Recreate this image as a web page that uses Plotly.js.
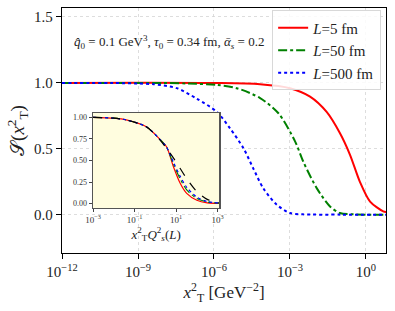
<!DOCTYPE html>
<html><head><meta charset="utf-8">
<script src="https://cdn.plot.ly/plotly-3.0.1.min.js"></script>
<style>html,body{margin:0;padding:0;background:#fff}#c{width:395px;height:311px}</style>
</head><body><div id="c"></div>
<script>
// Main panel data: x_T^2 [GeV^-2] and S(x_T^2)
const xL500 = [1e-12, 1e-10, 1e-9, 4.1e-9, 3.4e-8, 2.1e-7, 1.3e-6, 4.3e-6, 1.45e-5, 3.5e-5, 8.9e-5, 3.0e-4, 1e-3, 3.2e-3, 1e-1, 6.2];
const sL500 = [1.0, 0.999, 0.995, 0.99, 0.96, 0.88, 0.78, 0.655, 0.505, 0.354, 0.20, 0.076, 0.013, 0.003, 0.001, 0.0];
const xL50 = [1e-12, 1e-8, 1e-7, 1.3e-6, 7.9e-6, 6.6e-5, 3.5e-4, 1.6e-3, 3.4e-3, 1.15e-2, 3.8e-2, 9.3e-2, 0.32, 6.2];
const sL50 = [1.0, 0.999, 0.995, 0.985, 0.96, 0.885, 0.77, 0.555, 0.40, 0.20, 0.063, 0.013, 0.003, 0.0];
const xL5 = [1e-12, 1e-6, 6.6e-5, 1e-3, 6.2e-3, 2.8e-2, 9.3e-2, 0.234, 0.575, 1.45, 4.8, 6.2];
const sL5 = [1.0, 0.999, 0.99, 0.96, 0.896, 0.78, 0.62, 0.455, 0.25, 0.10, 0.025, 0.02];

// Inset data: x_T^2 Q_s^2(L) and S
const xIn = [1e-3, 1e-2, 4e-2, 0.37, 1.66, 3.47, 7.4, 15.5, 32.4, 100, 316, 1200];
const sInL5 = [1.0, 0.99, 0.97, 0.89, 0.745, 0.66, 0.43, 0.24, 0.12, 0.04, 0.01, 0.004];
const sInL50 = [1.0, 0.99, 0.97, 0.89, 0.745, 0.655, 0.46, 0.29, 0.16, 0.06, 0.02, 0.006];
const sInL500 = [1.0, 0.99, 0.97, 0.89, 0.745, 0.655, 0.48, 0.32, 0.19, 0.075, 0.025, 0.008];
const sInRef = [1.0, 0.99, 0.97, 0.89, 0.74, 0.64, 0.53, 0.41, 0.29, 0.14, 0.05, 0.012];

// Tick labels
const xTickVals = [1e-12, 1e-9, 1e-6, 1e-3, 1];
const xTickText = ['10<sup>−12</sup>', '10<sup>−9</sup>', '10<sup>−6</sup>', '10<sup>−3</sup>', '10<sup>0</sup>'];
const yTickVals = [0, 0.5, 1.0, 1.5];
const yTickText = ['0.0', '0.5', '1.0', '1.5'];
const inXTickVals = [1e-3, 1e-1, 10, 1000];
const inXTickText = ['10<sup>−3</sup>', '10<sup>−1</sup>', '10<sup>1</sup>', '10<sup>3</sup>'];
const inYTickVals = [0, 0.25, 0.5, 0.75, 1.0];
const inYTickText = ['0.00', '0.25', '0.50', '0.75', '1.00'];
const seriesNames = ['<i>L</i>=5 fm', '<i>L</i>=50 fm', '<i>L</i>=500 fm'];

const F = 'Liberation Serif, DejaVu Serif, serif';
const traces = [
  {x: xL5, y: sL5, name: seriesNames[0], mode: 'lines', line: {color: 'red', width: 2, shape: 'spline', smoothing: 0.8}},
  {x: xL50, y: sL50, name: seriesNames[1], mode: 'lines', line: {color: 'green', width: 2, dash: 'dashdot', shape: 'spline', smoothing: 0.8}},
  {x: xL500, y: sL500, name: seriesNames[2], mode: 'lines', line: {color: 'blue', width: 2, dash: 'dot', shape: 'spline', smoothing: 0.8}},
  {x: xIn, y: sInL5, xaxis: 'x2', yaxis: 'y2', showlegend: false, mode: 'lines', line: {color: 'red', width: 1.2, shape: 'spline', smoothing: 0.8}},
  {x: xIn, y: sInL50, xaxis: 'x2', yaxis: 'y2', showlegend: false, mode: 'lines', line: {color: 'green', width: 1.2, dash: 'dashdot', shape: 'spline', smoothing: 0.8}},
  {x: xIn, y: sInL500, xaxis: 'x2', yaxis: 'y2', showlegend: false, mode: 'lines', line: {color: 'blue', width: 1.2, dash: 'dot', shape: 'spline', smoothing: 0.8}},
  {x: xIn, y: sInRef, xaxis: 'x2', yaxis: 'y2', showlegend: false, mode: 'lines', line: {color: 'black', width: 1.2, dash: 'dash', shape: 'spline', smoothing: 0.8}}
];

const inXRange = [-3, 3.08];
const inYRange = [-0.05, 1.05];

const layout = {
  width: 395, height: 311,
  margin: {l: 62, r: 9, t: 8, b: 58},
  paper_bgcolor: '#fff', plot_bgcolor: '#fff',
  font: {family: F, color: '#222'},
  showlegend: true,
  legend: {x: 0.985, xanchor: 'right', y: 0.99, yanchor: 'top', bgcolor: 'rgba(255,255,255,0.85)',
           bordercolor: '#d8d8d8', borderwidth: 1, font: {family: F, size: 15, color: '#222'},
           tracegroupgap: 0, itemwidth: 30},
  xaxis: {type: 'log', range: [-12, 0.79], domain: [0, 1], tickvals: xTickVals, ticktext: xTickText,
          ticks: 'outside', ticklen: 5, tickcolor: '#000', showline: true, linecolor: '#000', linewidth: 1.3, mirror: true,
          showgrid: true, gridcolor: '#d4d4d4', griddash: 'dot', gridwidth: 0.8, zeroline: false,
          tickfont: {family: F, size: 15, color: '#222'},
          title: {text: '<i>x</i><sup>2</sup><sub>T</sub> [GeV<sup>−2</sup>]', font: {family: F, size: 17, color: '#222'}, standoff: 6}},
  yaxis: {range: [-0.29, 1.568], domain: [0, 1], tickvals: yTickVals, ticktext: yTickText,
          ticks: 'outside', ticklen: 5, tickcolor: '#000', showline: true, linecolor: '#000', linewidth: 1.3, mirror: true,
          showgrid: true, gridcolor: '#d4d4d4', griddash: 'dot', gridwidth: 0.8, zeroline: false,
          tickfont: {family: F, size: 15, color: '#222'},
          title: {text: '𝒮(<i>x</i><sup>2</sup><sub>T</sub>)', font: {family: F, size: 19, color: '#222'}, standoff: 4}},
  xaxis2: {type: 'log', range: inXRange, domain: [0.0957, 0.4855], anchor: 'y2', tickvals: inXTickVals, ticktext: inXTickText,
           ticks: 'outside', ticklen: 3, tickcolor: '#444', showline: true, linecolor: '#555', linewidth: 1.3, mirror: true,
           showgrid: false, zeroline: false, tickfont: {family: F, size: 9, color: '#333'},
           title: {text: '<i>x</i><sup>2</sup><sub>T</sub><i>Q</i><sup>2</sup><sub><i>s</i></sub>(<i>L</i>)', font: {family: F, size: 13, color: '#222'}, standoff: 1}},
  yaxis2: {range: inYRange, domain: [0.1837, 0.5714], anchor: 'x2', tickvals: inYTickVals, ticktext: inYTickText,
           ticks: 'outside', ticklen: 3, tickcolor: '#444', showline: true, linecolor: '#555', linewidth: 1.3, mirror: true,
           showgrid: false, zeroline: false, tickfont: {family: F, size: 8, color: '#333'}},
  shapes: [{type: 'rect', xref: 'x2', yref: 'y2',
            x0: Math.pow(10, inXRange[0]), x1: Math.pow(10, inXRange[1]), y0: inYRange[0], y1: inYRange[1],
            fillcolor: '#fffddf', line: {width: 0}, layer: 'below'}],
  annotations: [{xref: 'paper', yref: 'paper', x: 0.03, y: 0.862, xanchor: 'left', yanchor: 'middle', showarrow: false,
                 text: '<i>q̂</i><sub>0</sub> = 0.1 GeV<sup>3</sup>, <i>τ</i><sub>0</sub> = 0.34 fm, <i>ᾱ<sub>s</sub></i> = 0.2',
                 font: {family: F, size: 13, color: '#222'}}]
};
Plotly.newPlot('c', traces, layout, {displayModeBar: false, staticPlot: true});
</script></body></html>
